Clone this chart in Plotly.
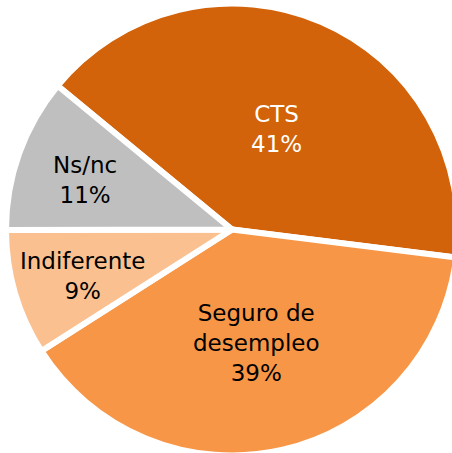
import math
import plotly.graph_objects as go

# Preferencia de los encuestados
categorias = ["CTS", "Seguro de desempleo", "Indiferente", "Ns/nc"]
etiquetas = ["CTS", "Seguro de<br>desempleo", "Indiferente", "Ns/nc"]
valores = [41, 39, 9, 11]
colores = ["#D2630A", "#F79646", "#FAC090", "#BFBFBF"]
colores_texto = ["#FFFFFF", "#000000", "#000000", "#000000"]

ANCHO, ALTO = 458, 456
MARGEN = dict(l=6, r=0, t=3, b=0)
ROTACION = -50.5
FUENTE = "DejaVu Sans"
TAM_FUENTE = 23

fig = go.Figure(
    go.Pie(
        labels=categorias,
        values=valores,
        textinfo="none",
        marker=dict(colors=colores, line=dict(color="#FFFFFF", width=6)),
        sort=False,
        direction="clockwise",
        rotation=ROTACION,
        hoverinfo="skip",
        showlegend=False,
    )
)

# Data labels: placed on each slice's bisector; small slices get their label
# pushed further out towards the rim, as a "best fit" layout would.
area_w = ANCHO - MARGEN["l"] - MARGEN["r"]
area_h = ALTO - MARGEN["t"] - MARGEN["b"]
radio = min(area_w, area_h) / 2
total = sum(valores)
angulo = 90 - ROTACION  # start of the first slice, degrees counter-clockwise from 3 o'clock
for nombre, valor, color in zip(etiquetas, valores, colores_texto):
    cuota = valor / total
    medio = math.radians(angulo - cuota * 360 / 2)
    angulo -= cuota * 360
    frac = 0.5 if cuota > 0.2 else 0.69
    fig.add_annotation(
        x=0.5 + frac * radio * math.cos(medio) / area_w,
        y=0.5 + frac * radio * math.sin(medio) / area_h,
        xref="paper",
        yref="paper",
        yshift=-3,
        text=f"{nombre}<br>{cuota:.0%}",
        showarrow=False,
        xanchor="center",
        yanchor="middle",
        font=dict(family=FUENTE, size=TAM_FUENTE, color=color),
    )

# the pie runs slightly past the right edge of the page, as a cropped chart
fig.update_layout(
    width=ANCHO,
    height=ALTO,
    margin=MARGEN,
    paper_bgcolor="#FFFFFF",
    plot_bgcolor="#FFFFFF",
)

fig.write_html(
    "out.html",
    post_script="document.documentElement.style.overflow='hidden';"
    "document.body.style.overflow='hidden';document.body.style.margin='0';",
)
